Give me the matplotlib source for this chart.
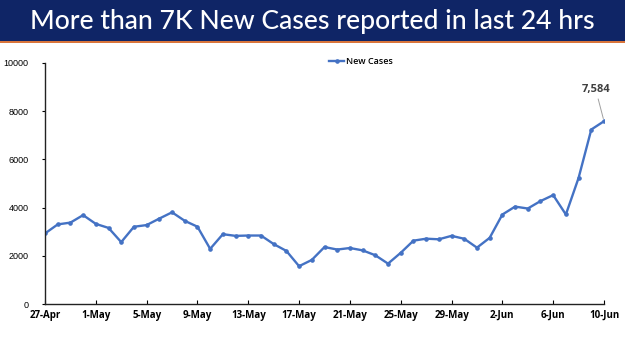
import matplotlib
matplotlib.use("Agg")
import matplotlib.pyplot as plt
from matplotlib.patches import Rectangle
import pandas as pd

dates = pd.date_range("2022-04-27", "2022-06-10", freq="D")
new_cases = [2927, 3303, 3377, 3688, 3324, 3157, 2568, 3205, 3275, 3545,
             3805, 3451, 3207, 2288, 2897, 2827, 2841, 2841, 2487, 2202,
             1569, 1829, 2364, 2259, 2323, 2226, 2022, 1675, 2124, 2628,
             2710, 2685, 2828, 2706, 2338, 2745, 3712, 4041, 3962, 4270,
             4518, 3714, 5233, 7240, 7584]
tick_labels = [d.strftime("%-d-%b") for d in dates[::4]]
title = "More than 7K New Cases reported in last 24 hrs"
series_name = "New Cases"

W, H = 625, 351
fig = plt.figure(figsize=(W / 100, H / 100), dpi=100)

# banner
fig.patches.append(Rectangle((0, 1 - 41 / H), 1, 41 / H, transform=fig.transFigure,
                             facecolor="#0f2566", edgecolor="none", zorder=0))
fig.patches.append(Rectangle((0, 1 - 43 / H), 1, 1.6 / H, transform=fig.transFigure,
                             facecolor="#d9753b", edgecolor="none", zorder=0))
fig.text(0.5, 1 - 21 / H, title, color="white", fontsize=19.1, family="Lato",
         fontweight="medium", ha="center", va="center")

ax = fig.add_axes([45 / W, 1 - 304 / H, (604 - 45) / W, (304 - 63) / H])
x = list(range(len(new_cases)))
line, = ax.plot(x, new_cases, color="#4472C4", lw=1.7, marker="o", ms=2.3,
                label=series_name)
ax.set_xlim(0, len(new_cases) - 1)
ax.set_ylim(0, 10000)
ax.set_yticks(range(0, 10001, 2000))
ax.set_yticklabels([str(v) for v in range(0, 10001, 2000)], fontsize=6.5,
                   family="Liberation Sans")
ax.set_xticks(x[::4])
ax.set_xticklabels(tick_labels, fontsize=7, family="Open Sans", fontweight="bold")
ax.tick_params(axis="x", length=3, width=0.8, pad=4, direction="in")
ax.tick_params(axis="y", length=2, width=0.8, pad=10)
for s in ["top", "right"]:
    ax.spines[s].set_visible(False)
for s in ["left", "bottom"]:
    ax.spines[s].set_linewidth(1.0)
    ax.spines[s].set_color("#222222")

leg = ax.legend(loc="center", bbox_to_anchor=(361 / W, 1 - 62 / H),
                bbox_transform=fig.transFigure, frameon=False,
                prop={"family": "Open Sans", "size": 6.5, "weight": "semibold"},
                handlelength=1.6, handletextpad=0.2, borderpad=0)

ax.annotate(f"{new_cases[-1]:,}", xy=(x[-1], new_cases[-1]),
            xytext=(-6, 19), textcoords="offset points", ha="center",
            va="bottom", fontsize=8, family="Open Sans", fontweight="bold",
            color="#404040",
            arrowprops=dict(arrowstyle="-", color="#a0a0a0", lw=0.7,
                            shrinkA=1, shrinkB=2))

fig.savefig("out.png", dpi=100)
